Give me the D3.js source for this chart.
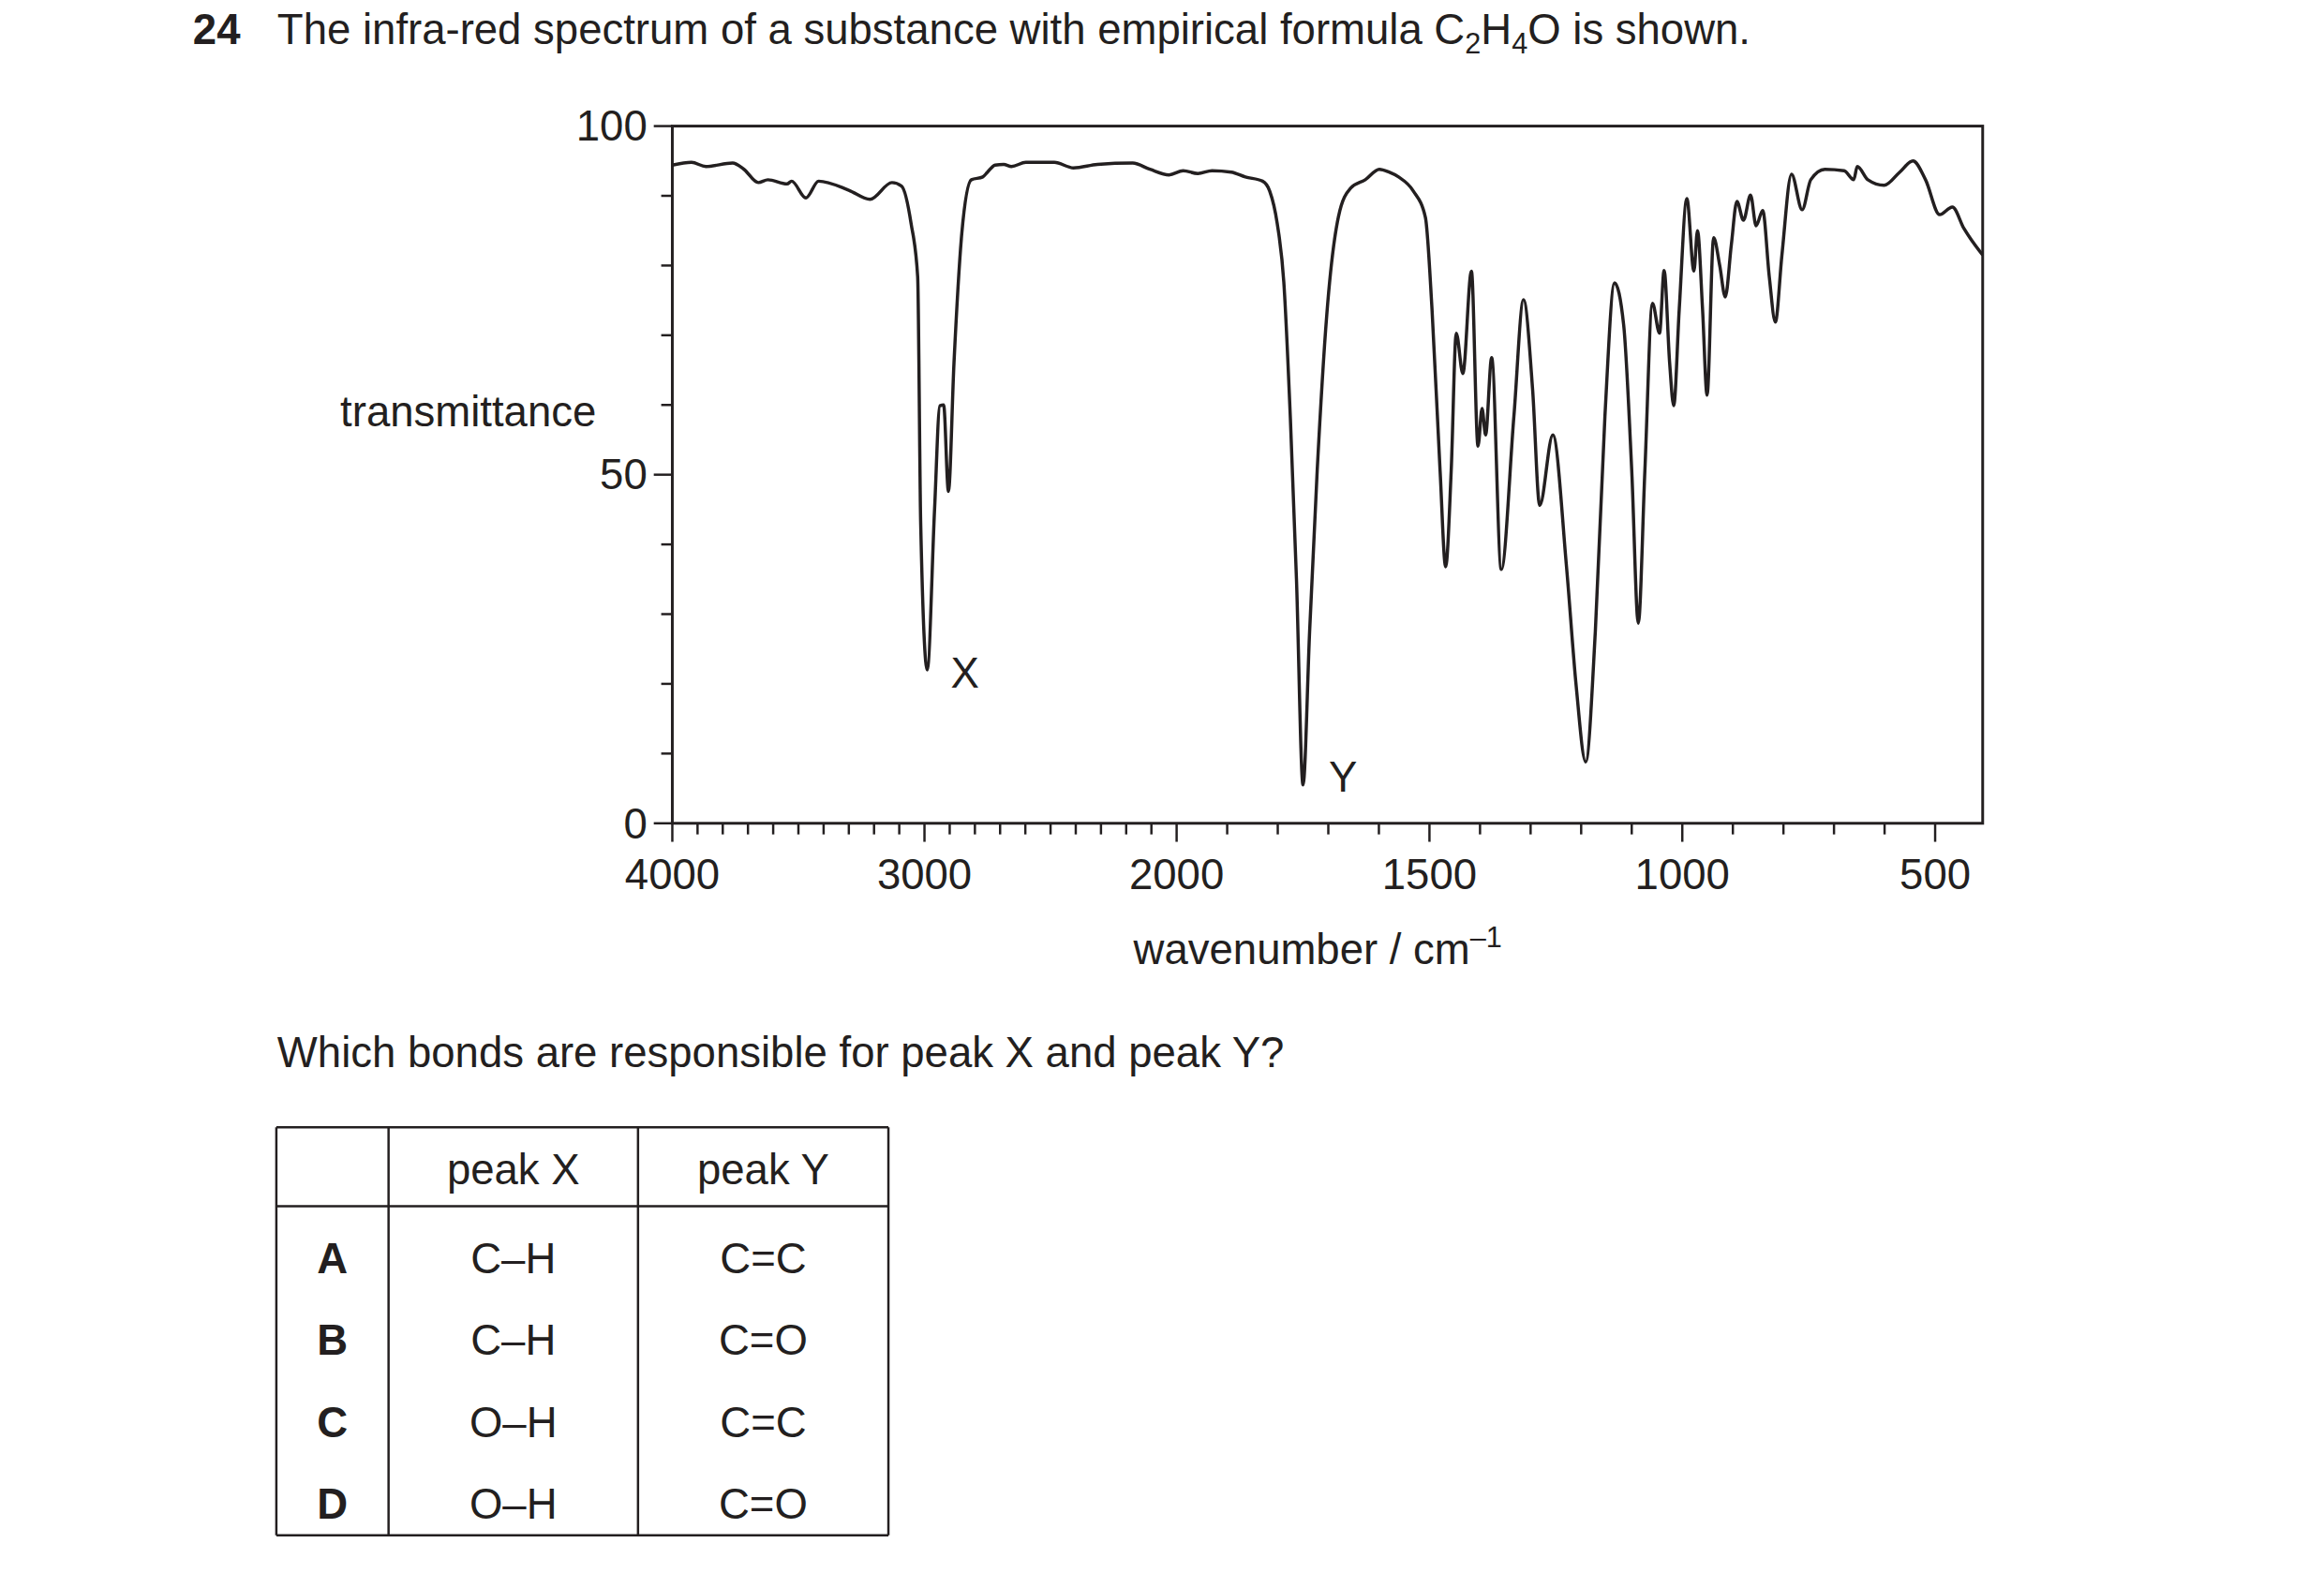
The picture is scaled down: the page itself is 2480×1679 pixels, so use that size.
<!DOCTYPE html>
<html><head><meta charset="utf-8">
<script src="https://cdn.jsdelivr.net/npm/d3@7"></script>
<style>body{margin:0;background:#fff}svg{display:block}text{font-family:"Liberation Sans",Arial,sans-serif;fill:#231f20}</style>
</head><body><svg id="c" width="2480" height="1679"></svg>
<script>
const wavenumber=[4000,3924,3867,3761,3716,3659,3621,3545,3527,3470,3420,3300,3216,3129,3091,3053,3027,3015,2989,2960,2939,2924,2905,2883,2852,2814,2769,2750,2720,2686,2655,2598,2485,2409,2314,2174,2106,2030,1987,1958,1930,1892,1864,1830,1816,1801,1788,1775,1763,1750,1737,1722,1703,1680,1656,1627,1599,1580,1561,1532,1508,1495,1479,1468,1457,1447,1434,1417,1404,1396,1389,1377,1358,1333,1314,1296,1282,1256,1229,1210,1191,1172,1153,1134,1116,1100,1087,1074,1059,1045,1036,1025,1017,1006,991,977,970,960,951,938,926,915,903,892,879,865,854,841,828,816,803,784,763,746,718,680,661,654,633,601,570,544,519,491,466,443,406];
const transmittance=[94.4,94.8,94.2,94.7,93.8,91.9,92.3,91.7,92.1,89.7,92.1,90.8,89.5,91.9,91.4,86,78.4,43,22,45,59.9,60,47.6,66,84.6,92.3,92.7,93.4,94.4,94.5,94.2,94.8,94.8,94,94.5,94.7,93.8,93,93.6,93.2,93.6,93.4,92.7,92.1,90.7,86,77.6,58,35,5.5,27.5,50.6,73,87,91.1,92.3,93.8,93.4,92.7,90.7,86.9,73.8,50.6,36.8,50.6,70.3,64.5,79.2,54.1,59.5,55.7,66.8,36.4,58.4,75.1,62.2,45.6,55.7,36.8,19.8,8.8,27.5,58.4,77.5,71.5,50.6,28.7,50.6,74.6,70.3,79.3,66,59.9,73.8,89.6,79.2,85,73.8,61.4,84,80,75.5,83,89.2,86.5,90.1,85.7,87.9,78.4,71.9,81.5,93.1,88,92.3,93.8,93.6,92.3,94.2,92.3,91.5,93.4,95,92.3,87.3,88.4,85.3,81.5];
const xTickLabels=[4000,3000,2000,1500,1000,500];
const yTickLabels=[0,50,100];
const tableHeader=["","peak X","peak Y"];
const options=["A","B","C","D"];
const peakX=["C–H","C–H","O–H","O–H"];
const peakY=["C=C","C=O","C=C","C=O"];

const svg=d3.select("#c").append("g").attr("transform","scale(0.9896)");
const L=725,R=2138,T=136,B=888, FS=46, SUB=31;
const x=d3.scaleLinear().domain([4000,2000,406]).range([L,793*1.6,R]);
const y=d3.scaleLinear().domain([0,100]).range([B,T]);
const ink="#231f20";

svg.append("text").attr("x",208).attr("y",48).attr("font-size",FS).attr("font-weight","bold").text("24");
const q=svg.append("text").attr("x",299).attr("y",48).attr("font-size",FS);
q.append("tspan").text("The infra-red spectrum of a substance with empirical formula C");
q.append("tspan").attr("font-size",SUB).attr("dy",10).text("2");
q.append("tspan").attr("dy",-10).text("H");
q.append("tspan").attr("font-size",SUB).attr("dy",10).text("4");
q.append("tspan").attr("dy",-10).text("O is shown.");

const minorX=d3.range(4000,2000,-100).concat(d3.range(2000,400,-100));
svg.append("g").selectAll("line").data(minorX).join("line")
 .attr("x1",d=>x(d)).attr("x2",d=>x(d)).attr("y1",B).attr("y2",d=>xTickLabels.includes(d)?B+20:B+12)
 .attr("stroke",ink).attr("stroke-width",2.5);
svg.append("g").selectAll("line").data(d3.range(0,101,10)).join("line")
 .attr("x1",L).attr("x2",d=>yTickLabels.includes(d)?L-20:L-12).attr("y1",d=>y(d)).attr("y2",d=>y(d))
 .attr("stroke",ink).attr("stroke-width",2.5);
svg.append("g").selectAll("text").data(xTickLabels).join("text")
 .attr("x",d=>x(d)).attr("y",959).attr("text-anchor","middle").attr("font-size",FS).text(d=>d);
svg.append("g").selectAll("text").data(yTickLabels).join("text")
 .attr("x",698).attr("y",d=>y(d)+16).attr("text-anchor","end").attr("font-size",FS).text(d=>d);
svg.append("rect").attr("x",L).attr("y",T).attr("width",R-L).attr("height",B-T)
 .attr("fill","none").attr("stroke",ink).attr("stroke-width",3);

svg.append("text").attr("x",643).attr("y",460).attr("text-anchor","end").attr("font-size",FS).text("transmittance");
const xl=svg.append("text").attr("x",1421).attr("y",1040).attr("text-anchor","middle").attr("font-size",FS);
xl.append("tspan").text("wavenumber / cm");
xl.append("tspan").attr("font-size",SUB).attr("dy",-18).text("–1");

const pts=wavenumber.map((w,i)=>[w,transmittance[i]]);
svg.append("path").datum(pts).attr("fill","none").attr("stroke",ink).attr("stroke-width",3.5)
 .attr("stroke-linejoin","round")
 .attr("d",d3.line().x(d=>x(d[0])).y(d=>y(d[1])).curve(d3.curveMonotoneX));

svg.append("text").attr("x",x(2840)).attr("y",y(19.5)).attr("text-anchor","middle").attr("font-size",FS).text("X");
svg.append("text").attr("x",x(1671)).attr("y",y(4.5)).attr("text-anchor","middle").attr("font-size",FS).text("Y");

svg.append("text").attr("x",299).attr("y",1151).attr("font-size",FS).text("Which bonds are responsible for peak X and peak Y?");

const colX=[298,419,688,958], rowY=[1216,1301,1390,1479,1568,1656];
const tg=svg.append("g").attr("stroke",ink).attr("stroke-width",2.5);
colX.forEach(cx=>tg.append("line").attr("x1",cx).attr("x2",cx).attr("y1",rowY[0]).attr("y2",rowY[5]));
[0,1,5].forEach(i=>tg.append("line").attr("x1",colX[0]).attr("x2",colX[3]).attr("y1",rowY[i]).attr("y2",rowY[i]));
const mid=i=>(colX[i]+colX[i+1])/2;
tableHeader.forEach((h,i)=>svg.append("text").attr("x",mid(i)).attr("y",1277).attr("text-anchor","middle").attr("font-size",FS).text(h));
options.forEach((o,r)=>{
 const yy=1373+r*88.5;
 svg.append("text").attr("x",mid(0)).attr("y",yy).attr("text-anchor","middle").attr("font-size",FS).attr("font-weight","bold").text(o);
 svg.append("text").attr("x",mid(1)).attr("y",yy).attr("text-anchor","middle").attr("font-size",FS).text(peakX[r]);
 svg.append("text").attr("x",mid(2)).attr("y",yy).attr("text-anchor","middle").attr("font-size",FS).text(peakY[r]);
});
</script></body></html>
